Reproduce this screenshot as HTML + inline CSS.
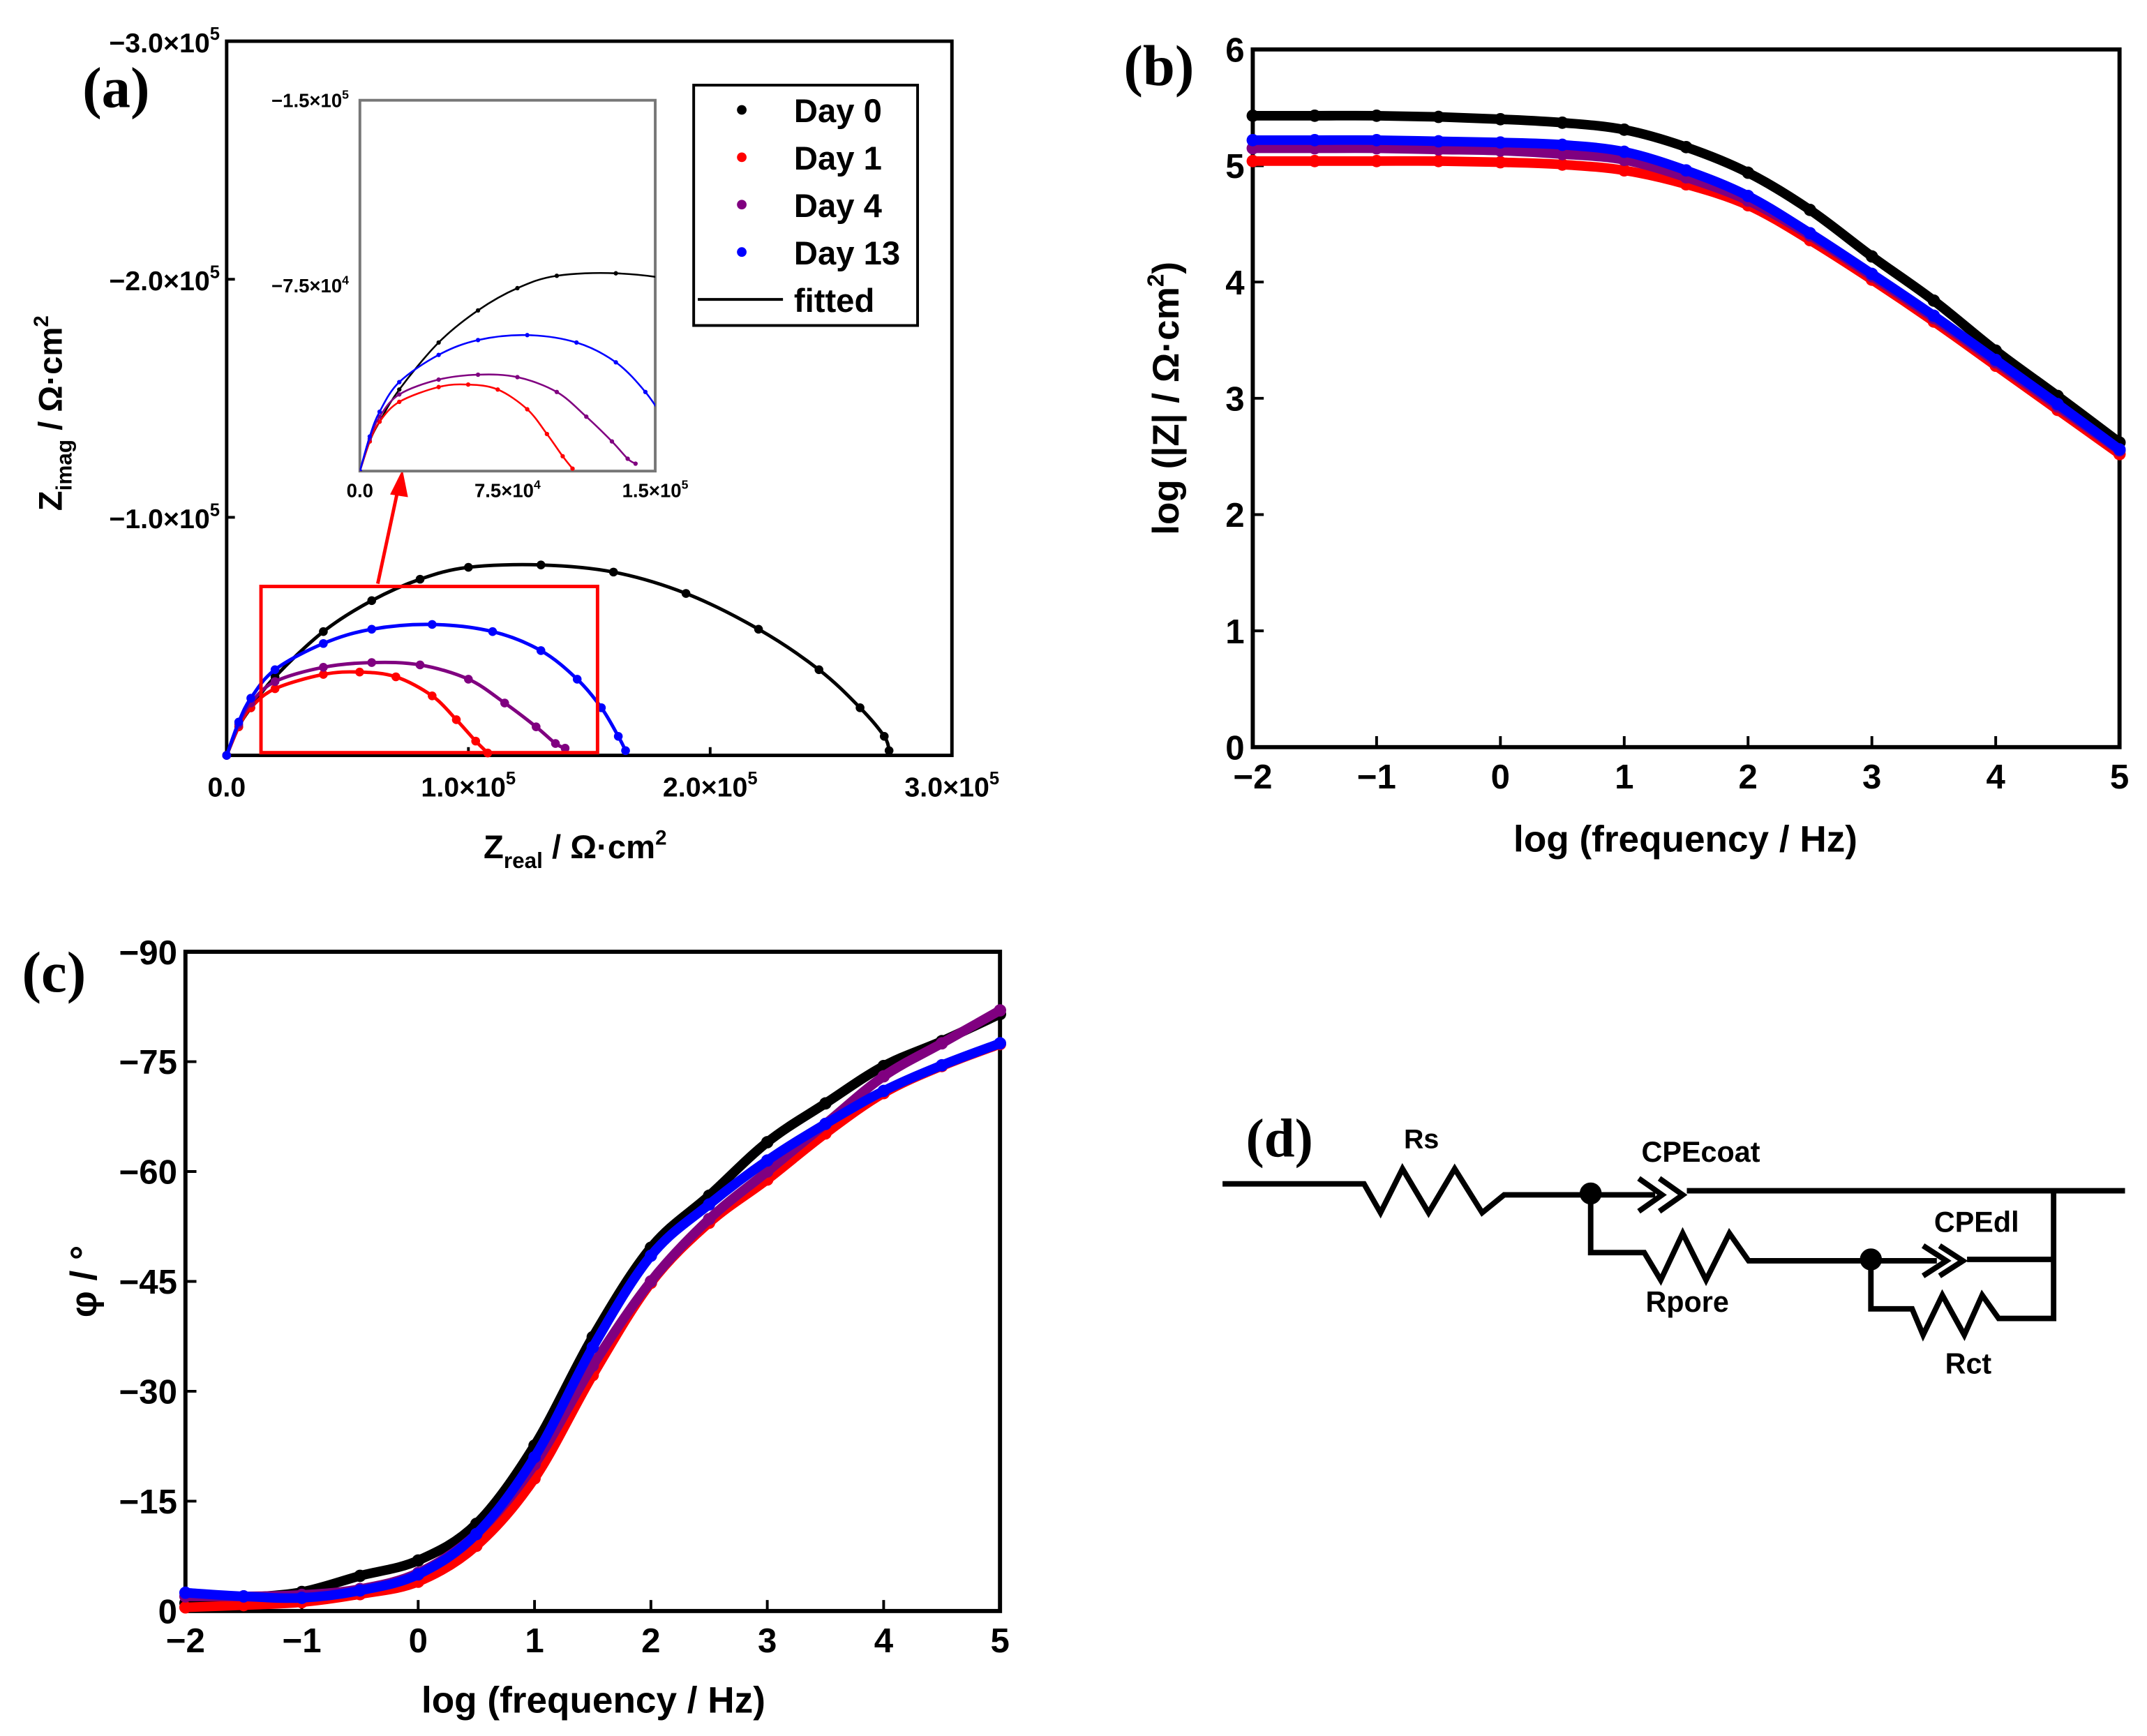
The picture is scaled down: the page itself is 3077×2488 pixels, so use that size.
<!DOCTYPE html>
<html><head><meta charset="utf-8">
<style>
html,body{margin:0;padding:0;background:#fff;}
svg{display:block;}
text{font-family:"Liberation Sans",Arial,sans-serif;font-weight:bold;}
.serif{font-family:"Liberation Serif","Times New Roman",serif;}
</style></head>
<body>
<svg id="fig" width="3077" height="2488" viewBox="0 0 1563 1264" preserveAspectRatio="none" xmlns="http://www.w3.org/2000/svg">
<rect width="1563" height="1264" fill="#fff"/>
<g id="pa"></g>
<g id="pb"></g>
<g id="pc"></g>
<g id="pd" stroke="#000" fill="none" stroke-width="4">
  <text x="907" y="842" font-size="40" class="serif" fill="#000" stroke="none">(d)</text>
  <polyline points="890,862 993,862 1005,883 1021,851 1040,883 1059,851 1079,883 1095,870 1158,870"/>
  <text x="1022" y="836" font-size="20" fill="#000" stroke="none" font-weight="normal">Rs</text>
  <circle cx="1158" cy="869" r="6" fill="#000"/>
  <polyline points="1158,870 1205,870" />
  <polyline points="1193,858 1210,870 1193,882"/>
  <polyline points="1208,858 1225,870 1208,882"/>
  <polyline points="1228,867 1547,867"/>
  <text x="1195" y="846" font-size="21" fill="#000" stroke="none" font-weight="normal">CPEcoat</text>
  <polyline points="1158,870 1158,912 1197,912 1209,932 1225,898 1242,932 1259,898 1273,918 1362,918"/>
  <text x="1198" y="955" font-size="21" fill="#000" stroke="none" font-weight="normal">Rpore</text>
  <circle cx="1362" cy="917" r="6" fill="#000"/>
  <polyline points="1362,918 1410,918"/>
  <polyline points="1400,907 1417,918 1400,929"/>
  <polyline points="1412,907 1429,918 1412,929"/>
  <polyline points="1432,917 1495,917"/>
  <text x="1408" y="897" font-size="21" fill="#000" stroke="none" font-weight="normal">CPEdl</text>
  <polyline points="1362,918 1362,953 1392,953 1400,972 1414,943 1430,972 1443,943 1455,960 1495,960 1495,867"/>
  <text x="1416" y="1000" font-size="21" fill="#000" stroke="none" font-weight="normal">Rct</text>
</g>
</svg>
<script>
// ---------- data ----------
const seriesNames = ["Day 0","Day 1","Day 4","Day 13"];
const seriesColors = ["#000000","#ff0000","#800080","#0000ff"];
// Nyquist (units 1e5 ohm cm2): Zreal, -Zimag
const nyqDay0Re = [0,0.05,0.1,0.2,0.4,0.6,0.8,1.0,1.3,1.6,1.9,2.2,2.45,2.62,2.72,2.74];
const nyqDay0Im = [0,0.12,0.2,0.33,0.52,0.65,0.74,0.79,0.8,0.77,0.68,0.53,0.36,0.2,0.08,0.02];
const nyqDay1Re = [0,0.05,0.1,0.2,0.4,0.55,0.7,0.85,0.95,1.03,1.08];
const nyqDay1Im = [0,0.12,0.2,0.28,0.34,0.35,0.33,0.25,0.15,0.06,0.01];
const nyqDay4Re = [0,0.05,0.1,0.2,0.4,0.6,0.8,1.0,1.15,1.28,1.36,1.4];
const nyqDay4Im = [0,0.13,0.22,0.31,0.37,0.39,0.38,0.32,0.22,0.12,0.05,0.03];
const nyqDay13Re = [0,0.05,0.1,0.2,0.4,0.6,0.85,1.1,1.3,1.45,1.55,1.62,1.65];
const nyqDay13Im = [0,0.14,0.24,0.36,0.47,0.53,0.55,0.52,0.44,0.32,0.2,0.08,0.02];
// Bode
const logFreq = [-2,-1.5,-1,-0.5,0,0.5,1,1.5,2,2.5,3,3.5,4,4.5,5];
const modDay0 = [5.43,5.43,5.43,5.42,5.40,5.37,5.31,5.16,4.94,4.62,4.22,3.84,3.41,3.02,2.62];
const modDay1 = [5.04,5.04,5.04,5.04,5.03,5.01,4.96,4.84,4.66,4.36,4.02,3.66,3.28,2.90,2.52];
const modDay4 = [5.15,5.15,5.15,5.14,5.13,5.10,5.05,4.90,4.70,4.40,4.05,3.69,3.31,2.93,2.55];
const modDay13 = [5.22,5.22,5.22,5.21,5.20,5.18,5.12,4.96,4.74,4.42,4.07,3.71,3.33,2.95,2.56];
const phDay0 = [1.1,1.8,2.6,4.8,6.9,11.9,22.6,37.4,49.6,56.7,64.0,69.3,74.4,77.8,81.5];
const phDay1 = [0.5,0.8,1.2,2.3,4.0,8.9,18.1,32.2,44.8,53.0,58.9,65.2,70.7,74.4,77.4];
const phDay4 = [2.0,2.0,2.2,3.0,5.2,10.5,20.0,33.5,45.0,53.5,60.0,66.5,73.0,77.5,82.0];
const phDay13 = [2.5,2.0,1.8,2.8,5.0,10.5,21.0,36.0,48.5,55.5,61.5,66.5,71.0,74.5,77.5];
const nyqTickVals = [0,1,2,3];
const nyqTickLabels = ["0.0","1.0×10","2.0×10","3.0×10"];
const bodeXTicks = [-2,-1,0,1,2,3,4,5];
const bodeXLabels = ["−2","−1","0","1","2","3","4","5"];
const modYTicks = [0,1,2,3,4,5,6];
const phYTicks = [0,15,30,45,60,75,90];
const phYLabels = ["0","−15","−30","−45","−60","−75","−90"];

const NS="http://www.w3.org/2000/svg";
function el(parent,tag,attrs,text){const e=document.createElementNS(NS,tag);for(const k in attrs)e.setAttribute(k,attrs[k]);if(text!==undefined)e.textContent=text;parent.appendChild(e);return e;}
function smooth(pts){if(pts.length<2)return "";let d="M"+pts[0][0]+","+pts[0][1];for(let i=0;i<pts.length-1;i++){const p0=pts[Math.max(0,i-1)],p1=pts[i],p2=pts[i+1],p3=pts[Math.min(pts.length-1,i+2)];const c1x=p1[0]+(p2[0]-p0[0])/6,c1y=p1[1]+(p2[1]-p0[1])/6,c2x=p2[0]-(p3[0]-p1[0])/6,c2y=p2[1]-(p3[1]-p1[1])/6;d+=" C"+c1x+","+c1y+" "+c2x+","+c2y+" "+p2[0]+","+p2[1];}return d;}

// ---------- panel a ----------
(function(){
const g=document.getElementById('pa');
const L=165,R=693,T=30,B=550;
const sx=v=>L+(v/3)*(R-L), sy=v=>B-(v/3)*(B-T);
let t=el(g,'text',{x:60,y:78,'font-size':42,class:'serif'},'(a)');


const fr=el(g,'rect',{x:L,y:T,width:R-L,height:B-T,fill:'none',stroke:'#000','stroke-width':2.5});


nyqTickVals.forEach((v,i)=>{
  const xl=el(g,'text',{x:sx(v),y:B+30,'font-size':20,'text-anchor':'middle'},nyqTickLabels[i]);
  if(i>0){el(xl,'tspan',{dy:-9,'font-size':13},'5');}
  
  
  el(g,'line',{x1:sx(v),x2:sx(v),y1:B,y2:B-6,stroke:'#000','stroke-width':2});
  if(v>0){
    const yl=el(g,'text',{x:L-5,y:sy(v)+8,'font-size':20,'text-anchor':'end'},"−"+nyqTickLabels[i]);
    el(yl,'tspan',{dy:-9,'font-size':13},'5');
    
    
  }
  el(g,'line',{x1:L,x2:L+6,y1:sy(v),y2:sy(v),stroke:'#000','stroke-width':2});
});
const xt=el(g,'text',{x:352,y:625,'font-size':24},'Z');
el(xt,'tspan',{dy:7,'font-size':16},'real');el(xt,'tspan',{dy:-7},' / Ω·cm');el(xt,'tspan',{dy:-10,'font-size':15},'2');


const yt=el(g,'text',{x:0,y:0,'font-size':24,transform:'translate(45,372) rotate(-90)'},'Z');
el(yt,'tspan',{dy:7,'font-size':16},'imag');el(yt,'tspan',{dy:-7},' / Ω·cm');el(yt,'tspan',{dy:-10,'font-size':15},'2');


const nyq=[[nyqDay0Re,nyqDay0Im],[nyqDay1Re,nyqDay1Im],[nyqDay4Re,nyqDay4Im],[nyqDay13Re,nyqDay13Im]];
function drawSeries(par,fx,fy,r,sw,clip){
  nyq.forEach((s,k)=>{
    const pts=s[0].map((v,i)=>[fx(v),fy(s[1][i])]);
    const p=el(par,'path',{d:smooth(pts),fill:'none',stroke:seriesColors[k],'stroke-width':sw});
    if(clip)p.setAttribute('clip-path',clip);
    
    
    pts.forEach(q=>{const c=el(par,'circle',{cx:q[0],cy:q[1],r:r,fill:seriesColors[k]});if(clip)c.setAttribute('clip-path',clip);
      
      });
  });
}
drawSeries(g,sx,sy,3.2,2.5,null);
// red zoom rect + arrow
const zr=el(g,'rect',{x:190,y:427,width:245,height:121,fill:'none',stroke:'#ff0000','stroke-width':2.5});


const ar=el(g,'line',{x1:275,y1:425,x2:290,y2:355,stroke:'#ff0000','stroke-width':2.5});


el(g,'polygon',{points:'293,342 284,360 297,362',fill:'#ff0000'});
// inset
const iL=262,iR=477,iT=73,iB=343;
const ix=v=>iL+(v/1.5)*(iR-iL), iy=v=>iB-(v/1.5)*(iB-iT);
const ig=el(g,'g',{});


el(ig,'rect',{x:iL,y:iT,width:iR-iL,height:iB-iT,fill:'#fff',stroke:'#777','stroke-width':2});
const cp=el(ig,'clipPath',{id:'insclip'});el(cp,'rect',{x:iL,y:iT,width:iR-iL,height:iB-iT});
drawSeries(ig,ix,iy,1.6,1.3,'url(#insclip)');
[[0,'0.0'],[0.75,'7.5×10'],[1.5,'1.5×10']].forEach((a,i)=>{
  const tt=el(ig,'text',{x:ix(a[0]),y:iB+19,'font-size':14,'text-anchor':'middle','font-weight':'normal'},a[1]);
  if(i>0)el(tt,'tspan',{dy:-6,'font-size':9},i==1?'4':'5');
  
  
});
[[1.5,'−1.5×10','5'],[0.75,'−7.5×10','4']].forEach(a=>{
  const tt=el(ig,'text',{x:iL-8,y:iy(a[0])+5,'font-size':14,'text-anchor':'end','font-weight':'normal'},a[1]);
  el(tt,'tspan',{dy:-6,'font-size':9},a[2]);
  
  
});
// legend
const lg=el(g,'g',{});


el(lg,'rect',{x:505,y:62,width:163,height:175,fill:'#fff',stroke:'#000','stroke-width':2});
seriesNames.forEach((n,i)=>{
  const y=80+i*34.5;
  el(lg,'circle',{cx:540,cy:y,r:3.5,fill:seriesColors[i]});
  const tt=el(lg,'text',{x:578,y:y+9,'font-size':24},n);
  
  
});
el(lg,'line',{x1:508,x2:570,y1:218,y2:218,stroke:'#000','stroke-width':2});
const ft=el(lg,'text',{x:578,y:227,'font-size':24},'fitted');


})();

// ---------- bode helper ----------
function bode(gid,L,R,T,B,ymin,ymax,yTicks,yLabels,series,label,lx,ly,ytitle,ytx,yty,xtx,xty,yInvert){
  const g=document.getElementById(gid);
  const sx=v=>L+(v+2)/7*(R-L), sy=v=>B-(v-ymin)/(ymax-ymin)*(B-T);
  const t=el(g,'text',{x:lx,y:ly,'font-size':42,class:'serif'},label);
  
  
  const fr=el(g,'rect',{x:L,y:T,width:R-L,height:B-T,fill:'none',stroke:'#000','stroke-width':3});
  
  
  bodeXTicks.forEach((v,i)=>{
    el(g,'line',{x1:sx(v),x2:sx(v),y1:B,y2:B-8,stroke:'#000','stroke-width':2});
    const tt=el(g,'text',{x:sx(v),y:B+30,'font-size':25,'text-anchor':'middle'},bodeXLabels[i]);
    
    
  });
  yTicks.forEach((v,i)=>{
    el(g,'line',{x1:L,x2:L+8,y1:sy(v),y2:sy(v),stroke:'#000','stroke-width':2});
    const tt=el(g,'text',{x:L-6,y:sy(v)+9,'font-size':25,'text-anchor':'end'},yLabels[i]);
    
    
  });
  const xt=el(g,'text',{x:xtx,y:xty,'font-size':27,'text-anchor':'middle'},'log (frequency / Hz)');
  
  
  const yt=el(g,'text',{x:0,y:0,'font-size':27,'text-anchor':'middle',transform:'translate('+ytx+','+yty+') rotate(-90)'});
  ytitle(yt);
  
  
  series.forEach((s,k)=>{
    const pts=logFreq.map((f,i)=>[sx(f),sy(s[i])]);
    const p=el(g,'path',{d:smooth(pts),fill:'none',stroke:seriesColors[k],'stroke-width':7});
    
    
    pts.forEach(q=>{const c=el(g,'circle',{cx:q[0],cy:q[1],r:4.5,fill:seriesColors[k]});
      
      });
  });
}
bode('pb',912,1543,36,544,0,6,modYTicks,modYTicks.map(String),[modDay1,modDay4,modDay13,modDay0].map(x=>x),'(b)',818,62,
  yt=>{yt.textContent='log (|Z| / Ω·cm';el(yt,'tspan',{dy:-11,'font-size':17},'2');el(yt,'tspan',{dy:11},')');},858,290,1227,620);
// fix color ordering for b: reorder handled below
</script>
<script>
// panel b drew series with colors in seriesColors order; redraw correctly by clearing and using proper order
(function(){
const g=document.getElementById('pb');g.innerHTML='';
bode('pb',912,1543,36,544,0,6,modYTicks,modYTicks.map(String),[modDay0,modDay1,modDay4,modDay13],'(b)',818,62,
  yt=>{yt.textContent='log (|Z| / Ω·cm';el(yt,'tspan',{dy:-11,'font-size':17},'2');el(yt,'tspan',{dy:11},')');},858,290,1227,620);
bode('pc',135,728,693,1173,0,90,phYTicks,phYLabels,[phDay0,phDay1,phDay4,phDay13],'(c)',16,722,
  yt=>{yt.textContent='φ / °';},70,933,432,1247);
})();
</script>
</body></html>
